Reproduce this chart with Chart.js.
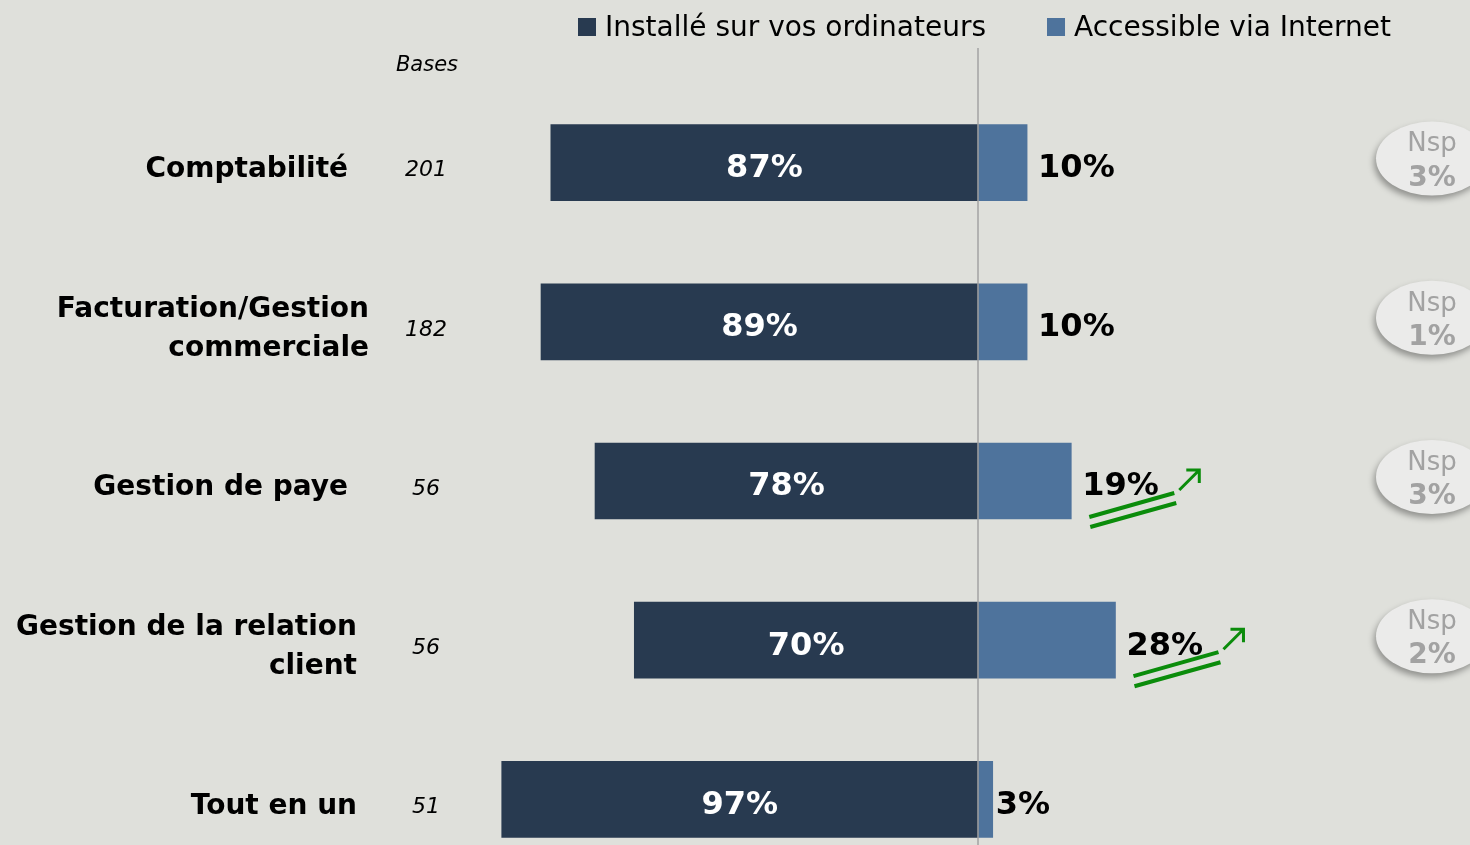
<!DOCTYPE html>
<html>
<head>
<meta charset="utf-8">
<script src="https://cdn.jsdelivr.net/npm/chart.js@4"></script>
<style>
  html, body { margin: 0; padding: 0; background: #dfe0db; overflow: hidden; }
  #wrap { width: 1470px; height: 900px; }
</style>
</head>
<body>
<div id="wrap"><canvas id="logiciel-chart" width="1470" height="900"></canvas></div>
<script>
const categories = [['Comptabilité'], ['Facturation/Gestion', 'commerciale'], ['Gestion de paye'],
                    ['Gestion de la relation', 'client'], ['Tout en un']];
const bases = [201, 182, 56, 56, 51];
const installe = [87, 89, 78, 70, 97];
const internet = [10, 10, 19, 28, 3];
const nsp = [3, 1, 3, 2, null];
const en_hausse = [false, false, true, true, false];
const legend_labels = ['Installé sur vos ordinateurs', 'Accessible via Internet'];

// layout only: right edge of each category label
const label_right = [348, 369, 348, 357, 357];

const col_dark = '#283a50';
const col_blue = '#4e739c';
const col_green = '#0b8c0b';
const font_fam = '"DejaVu Sans", Verdana, sans-serif';

const decor = {
    id: 'decor',
    afterDatasetsDraw(chart) {
        const ctx = chart.ctx;
        const x = chart.scales.x;
        const y = chart.scales.y;
        const zero = x.getPixelForValue(0);

        // center line
        ctx.save();
        ctx.strokeStyle = '#a3a3a3';
        ctx.lineWidth = 1.5;
        ctx.beginPath();
        ctx.moveTo(zero, 48);
        ctx.lineTo(zero, 900);
        ctx.stroke();

        // legend
        ctx.font = '28px ' + font_fam;
        ctx.textBaseline = 'middle';
        ctx.textAlign = 'left';
        let lx = 578;
        const cols = [col_dark, col_blue];
        legend_labels.forEach((t, i) => {
            ctx.fillStyle = cols[i];
            ctx.fillRect(lx, 18, 18, 18);
            ctx.fillStyle = '#000';
            ctx.fillText(t, lx + 27, 29);
            lx += 27 + ctx.measureText(t).width + 61;
        });

        // Bases header
        ctx.font = 'italic 21px ' + font_fam;
        ctx.textAlign = 'center';
        ctx.fillStyle = '#000';
        ctx.fillText('Bases', 427, 66);

        categories.forEach((lines, i) => {
            const cy = y.getPixelForValue(i);

            // category label
            ctx.font = 'bold 28px ' + font_fam;
            ctx.textAlign = 'right';
            ctx.fillStyle = '#000';
            const lh = 39;
            const y0 = cy + 7 - (lines.length - 1) * lh / 2;
            lines.forEach((l, k) => ctx.fillText(l, label_right[i], y0 + k * lh));

            // base
            ctx.font = 'italic 22px ' + font_fam;
            ctx.textAlign = 'center';
            ctx.fillText(bases[i], 426, cy + 8);

            // values
            ctx.font = 'bold 32px ' + font_fam;
            ctx.fillStyle = '#fff';
            const left = x.getPixelForValue(-installe[i]);
            ctx.fillText(installe[i] + '%', (left + zero) / 2, cy + 6);

            const right = x.getPixelForValue(internet[i]);
            const tx = right + (internet[i] < 5 ? 3 : 11);
            ctx.textAlign = 'left';
            ctx.fillStyle = '#000';
            ctx.fillText(internet[i] + '%', tx, cy + 6);

            // hausse arrow
            if (en_hausse[i]) {
                ctx.strokeStyle = col_green;
                ctx.lineWidth = 4;
                ctx.beginPath();
                ctx.moveTo(tx + 7, cy + 36);
                ctx.lineTo(tx + 92, cy + 12);
                ctx.moveTo(tx + 8, cy + 46);
                ctx.lineTo(tx + 94, cy + 22);
                ctx.stroke();
                ctx.lineWidth = 3;
                ctx.beginPath();
                ctx.moveTo(tx + 97, cy + 9);
                ctx.lineTo(tx + 117, cy - 11);
                ctx.moveTo(tx + 104, cy - 11);
                ctx.lineTo(tx + 117, cy - 11);
                ctx.lineTo(tx + 117, cy + 2);
                ctx.stroke();
            }

            // Nsp bubble
            if (nsp[i] !== null) {
                const bx = 1432, by = cy - 4;
                ctx.save();
                ctx.shadowColor = 'rgba(0,0,0,0.35)';
                ctx.shadowBlur = 6;
                ctx.shadowOffsetX = -2;
                ctx.shadowOffsetY = 4;
                ctx.fillStyle = '#ebebea';
                ctx.beginPath();
                ctx.ellipse(bx, by, 56, 37, 0, 0, Math.PI * 2);
                ctx.fill();
                ctx.restore();
                ctx.fillStyle = '#a2a2a2';
                ctx.textAlign = 'center';
                ctx.font = '26px ' + font_fam;
                ctx.fillText('Nsp', bx, by - 14);
                ctx.font = 'bold 28px ' + font_fam;
                ctx.fillText(nsp[i] + '%', bx, by + 20);
            }
        });
        ctx.restore();
    }
};

const chart_bar = (canvas_id) => {
    const ctx = document.getElementById(canvas_id);
    return new Chart(ctx, {
        type: 'bar',
        data: {
            labels: categories,
            datasets: [
                {
                    label: legend_labels[0],
                    data: installe.map(v => -v),
                    backgroundColor: col_dark,
                    borderWidth: 0,
                    barThickness: 76,
                },
                {
                    label: legend_labels[1],
                    data: internet,
                    backgroundColor: col_blue,
                    borderWidth: 0,
                    barThickness: 76,
                }
            ]
        },
        options: {
            indexAxis: 'y',
            responsive: false,
            animation: false,
            layout: { padding: { left: 487, right: 1, top: 83, bottom: 21 } },
            scales: {
                x: { display: false, stacked: true, min: -100, max: 100 },
                y: { display: false, stacked: true }
            },
            plugins: {
                legend: { display: false },
                tooltip: { enabled: false }
            }
        },
        plugins: [decor]
    });
};

chart_bar('logiciel-chart');
</script>
</body>
</html>
